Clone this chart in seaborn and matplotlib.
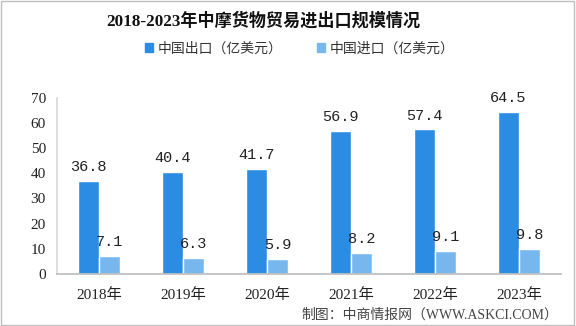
import matplotlib
matplotlib.use("Agg")
import matplotlib.pyplot as plt
import seaborn as sns
import pandas as pd
from matplotlib.patches import Rectangle

years = ["2018年", "2019年", "2020年", "2021年", "2022年", "2023年"]
exports = [36.8, 40.4, 41.7, 56.9, 57.4, 64.5]
imports = [7.1, 6.3, 5.9, 8.2, 9.1, 9.8]
series = ["中国出口（亿美元）", "中国进口（亿美元）"]
colors = ["#2B8CE3", "#78B7EE"]

df = pd.DataFrame({
    "year": years * 2,
    "value": exports + imports,
    "series": [series[0]] * len(years) + [series[1]] * len(years),
})

sns.set_theme(style="white")
plt.rcParams["font.family"] = ["Liberation Serif", "Noto Sans CJK SC", "DejaVu Sans"]

fig = plt.figure(figsize=(5.76, 3.26), dpi=100)
ax = fig.add_axes([0.099, 0.16, 0.875, 0.54])

sns.barplot(data=df, x="year", y="value", hue="series", palette=colors,
            width=0.5, ax=ax, legend=False, saturation=1)

for container in ax.containers:
    ax.bar_label(container, fmt="%.1f", padding=5, fontsize=11,
                 color="#222222", family=["Liberation Mono", "DejaVu Sans"])

ax.set_ylim(0, 70)
ax.set_yticks(range(0, 71, 10))
ax.set_xlabel("")
ax.set_ylabel("")
ax.tick_params(axis="both", length=0, labelsize=11, colors="#222222")
ax.tick_params(axis="x", pad=10)
ax.tick_params(axis="y", pad=8)
for s in ["top", "right"]:
    ax.spines[s].set_visible(False)
ax.spines["left"].set_color("#D9D9D9")
ax.spines["bottom"].set_color("#BFBFBF")

fig.text(0.457, 0.935, "2018-2023年中摩货物贸易进出口规模情况", ha="center", va="center",
         fontsize=12.3, fontweight="bold", color="#111111")

handles = [Rectangle((0, 0), 1, 1, color=c) for c in colors]
fig.legend(handles, series, loc="center", bbox_to_anchor=(0.52, 0.85), ncol=2,
           frameon=False, fontsize=10, handlelength=0.6, handleheight=0.6,
           handletextpad=0.3, columnspacing=2.5, labelcolor="#333333")

fig.text(0.97, 0.035, "制图：中商情报网（WWW.ASKCI.COM）", ha="right", va="center",
         fontsize=10, color="#444444")

fig.patches.append(Rectangle((0.002, 0.003), 0.995, 0.993, transform=fig.transFigure,
                             fill=False, edgecolor="#BFBFBF", linewidth=1))

fig.savefig("out.png", dpi=100)
